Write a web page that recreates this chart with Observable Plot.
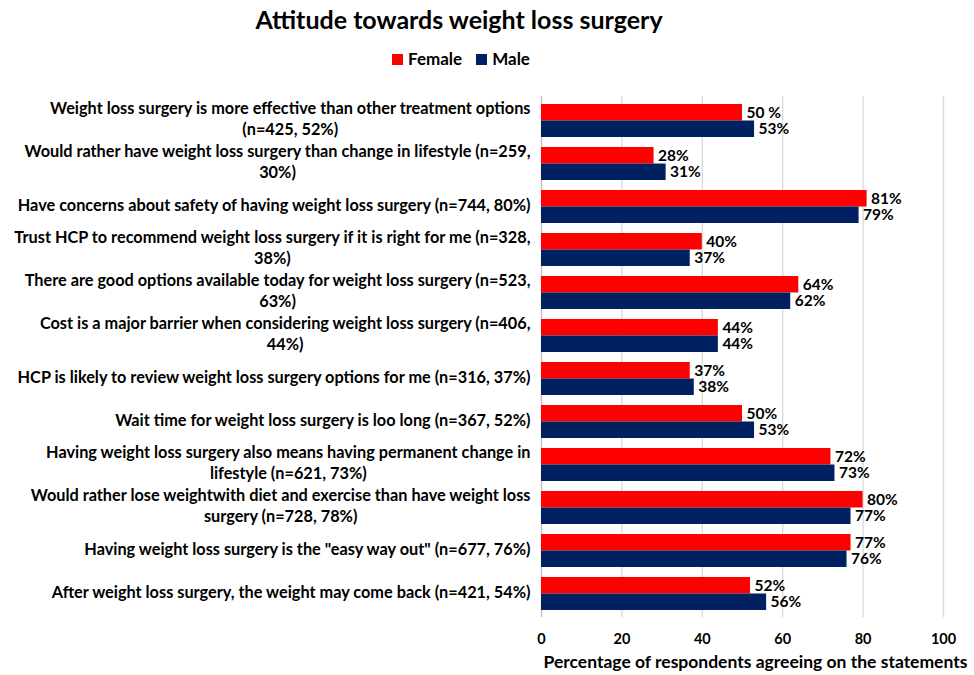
<!DOCTYPE html>
<html><head><meta charset="utf-8">
<script src="https://cdn.jsdelivr.net/npm/d3@7"></script>
<script src="https://cdn.jsdelivr.net/npm/@observablehq/plot@0.6"></script>
<style>
body{margin:0;background:#fff;font-family:Lato,"Open Sans",sans-serif;}
#wrap{position:relative;width:974px;height:675px;overflow:hidden;}
#title{position:absolute;left:0;top:4px;width:918px;text-align:center;font-weight:700;font-size:25px;color:#000;}
#legend{position:absolute;left:0;top:48px;width:922px;text-align:center;font-weight:700;font-size:17px;color:#000;}
.sw{display:inline-block;width:11px;height:11px;margin-right:5px;position:relative;top:0px;}
#chart{position:absolute;left:0;top:80px;}
</style></head>
<body>
<div id="wrap">
  <div id="title">Attitude towards weight loss surgery</div>
  <div id="legend"><span class="sw" style="background:#ff0000"></span>Female<span style="display:inline-block;width:14px"></span><span class="sw" style="background:#002060"></span>Male</div>
  <div id="chart"></div>
</div>
<script>
const categories = [
  "Weight loss surgery is more effective than other treatment options\n(n=425, 52%)",
  "Would rather have weight loss surgery than change in lifestyle (n=259,\n30%)",
  "Have concerns about safety of having weight loss surgery (n=744, 80%)",
  "Trust HCP to recommend weight loss surgery if it is right for me (n=328,\n38%)",
  "There are good options available today for weight loss surgery (n=523,\n63%)",
  "Cost is a major barrier when considering weight loss surgery (n=406,\n44%)",
  "HCP is likely to review weight loss surgery options for me (n=316, 37%)",
  "Wait time for weight loss surgery is loo long (n=367, 52%)",
  "Having weight loss surgery also means having permanent change in\nlifestyle (n=621, 73%)",
  "Would rather lose weightwith diet and exercise than have weight loss\nsurgery (n=728, 78%)",
  "Having weight loss surgery is the \"easy way out\" (n=677, 76%)",
  "After weight loss surgery, the weight may come back (n=421, 54%)"
];
const female = [50, 28, 81, 40, 64, 44, 37, 50, 72, 80, 77, 52];
const male   = [53, 31, 79, 37, 62, 44, 38, 53, 73, 77, 76, 56];
const femaleLabels = ["50 %", "28%", "81%", "40%", "64%", "44%", "37%", "50%", "72%", "80%", "77%", "52%"];
const maleLabels   = ["53%", "31%", "79%", "37%", "62%", "44%", "38%", "53%", "73%", "77%", "76%", "56%"];
const xTicks = [0, 20, 40, 60, 80, 100];
const seriesNames = ["Female", "Male"];
const seriesColors = ["#ff0000", "#002060"];
const xLabel = "Percentage of respondents agreeing on the statements";

const rows = categories.map((c, i) => ({category: c, female: female[i], male: male[i], fl: femaleLabels[i], ml: maleLabels[i]}));

const W = 974, H = 595, mT = 16, mB = 58, mL = 541, mR = 31;
const pIn = 0.24, pOut = 0.12;
const step = (H - mT - mB) / (categories.length - pIn + 2 * pOut);
const half = step * (1 - pIn) / 2;

const chart = Plot.plot({
  width: W, height: H,
  marginTop: mT, marginBottom: mB, marginLeft: mL, marginRight: mR,
  style: {fontFamily: "Lato, 'Open Sans', sans-serif", color: "#000", background: "#fff"},
  x: {domain: [0, 100], axis: null},
  y: {domain: categories, paddingInner: pIn, paddingOuter: pOut, axis: null},
  marks: [
    Plot.ruleX(xTicks.filter(t => t > 0), {stroke: "#d9d9d9", strokeWidth: 1.3}),
    Plot.ruleX([0], {stroke: "#bfbfbf", strokeWidth: 1.3}),
    Plot.barX(rows, {x: "female", y: "category", fill: seriesColors[0], insetBottom: half}),
    Plot.barX(rows, {x: "male", y: "category", fill: seriesColors[1], insetTop: half}),
    Plot.text(rows, {x: "female", y: "category", text: "fl", textAnchor: "start", dx: 4, dy: -half / 2, fontSize: 15.5, fontWeight: 700, fill: "#000"}),
    Plot.text(rows, {x: "male", y: "category", text: "ml", textAnchor: "start", dx: 4, dy: half / 2, fontSize: 15.5, fontWeight: 700, fill: "#000"}),
    Plot.text(categories, {y: d => d, text: d => d, frameAnchor: "left", dx: -11, dy: -3, textAnchor: "end", lineHeight: 1.3, fontSize: 16.3, fontWeight: 700, fill: "#000", ariaDescription: "ylabels"}),
    Plot.axisX({ticks: xTicks, tickSize: 0, tickPadding: 16, fontSize: 14.5, fontWeight: 700, label: null, fill: "#000"}),
    Plot.text([xLabel], {text: d => d, frameAnchor: "bottom-left", textAnchor: "start", dx: 2, dy: 50, fontSize: 17.5, fontWeight: 700, fill: "#000"})
  ]
});
document.getElementById("chart").append(chart);
chart.querySelectorAll("text").forEach(t => {
  const spans = t.querySelectorAll("tspan");
  if (spans.length < 2) return;
  const w = Math.max(...Array.from(spans, s => s.getComputedTextLength()));
  t.setAttribute("text-anchor", "middle");
  spans.forEach(s => s.setAttribute("x", -w / 2));
});
</script>
</body></html>
